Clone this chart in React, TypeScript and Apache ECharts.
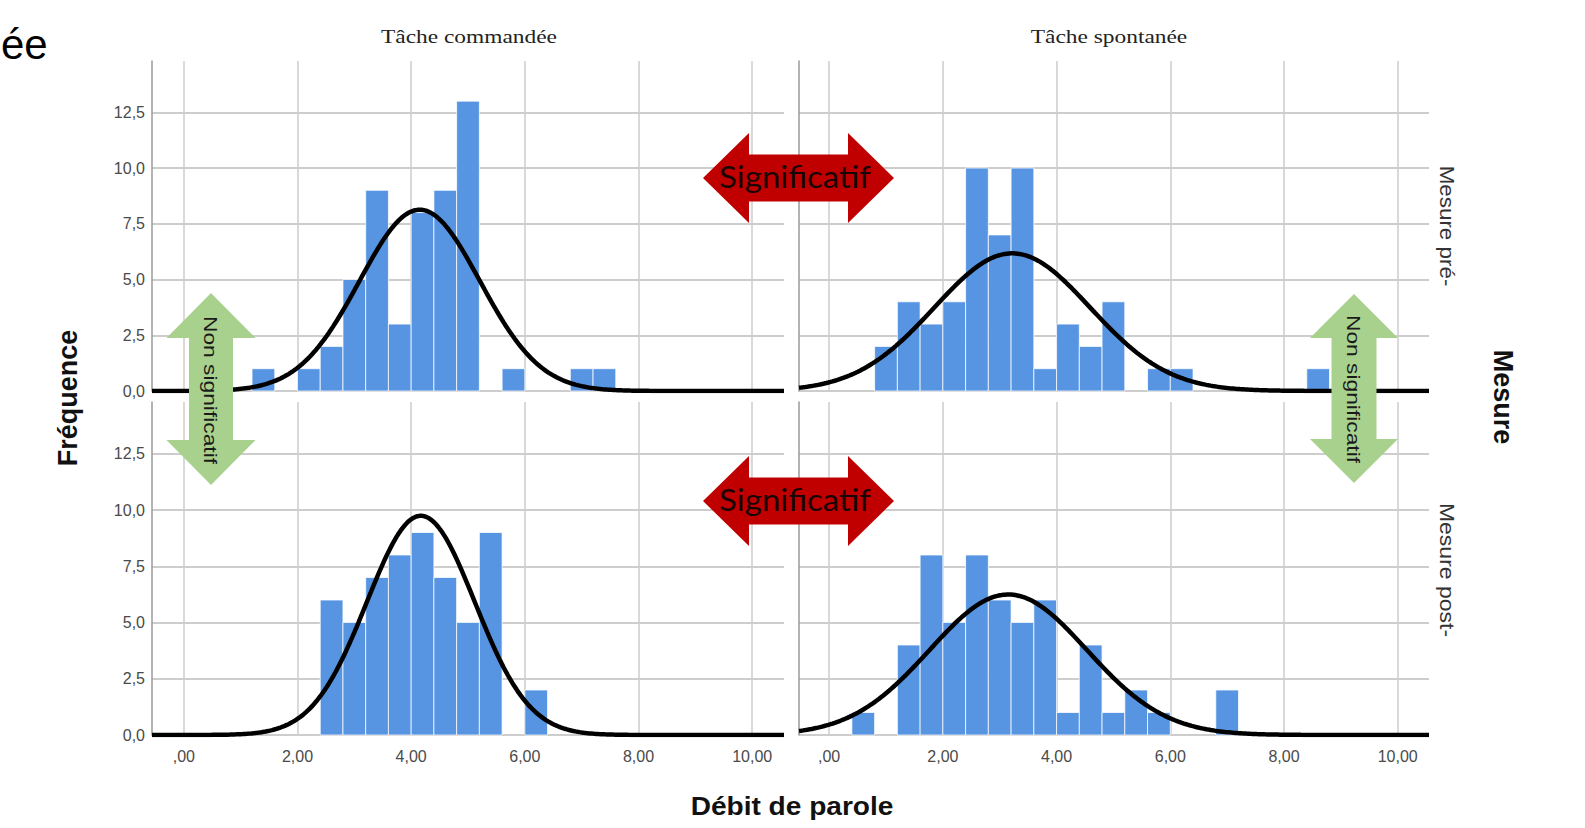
import React, { useEffect, useRef } from "react";
import * as echarts from "echarts";

// ---- Data ----
const binWidth = 0.4;

// Tâche commandée – Mesure pré-
const tlBinStarts = [1.2, 2.0, 2.4, 2.8, 3.2, 3.6, 4.0, 4.4, 4.8, 5.6, 6.8, 7.2];
const tlCounts = [1, 1, 2, 5, 9, 3, 8, 9, 13, 1, 1, 1];
// Tâche spontanée – Mesure pré-
const trBinStarts = [0.8, 1.2, 1.6, 2.0, 2.4, 2.8, 3.2, 3.6, 4.0, 4.4, 4.8, 5.6, 6.0, 8.4];
const trCounts = [2, 4, 3, 4, 10, 7, 10, 1, 3, 2, 4, 1, 1, 1];
// Tâche commandée – Mesure post-
const blBinStarts = [2.4, 2.8, 3.2, 3.6, 4.0, 4.4, 4.8, 5.2, 6.0];
const blCounts = [6, 5, 7, 8, 9, 7, 5, 9, 2];
// Tâche spontanée – Mesure post-
const brBinStarts = [0.4, 1.2, 1.6, 2.0, 2.4, 2.8, 3.2, 3.6, 4.0, 4.4, 4.8, 5.2, 5.6, 6.8];
const brCounts = [1, 4, 8, 5, 8, 6, 5, 6, 1, 4, 1, 2, 1, 2];

// Normal-curve parameters (mean, standard deviation) per panel
const tlNormal = [4.15, 1.06];
const trNormal = [3.22, 1.37];
const blNormal = [4.17, 0.95];
const brNormal = [3.15, 1.38];

const columnLabels = ["Tâche commandée", "Tâche spontanée"];
const rowLabels = ["Mesure pré-", "Mesure post-"];
const xTitle = "Débit de parole";
const yTitle = "Fréquence";
const rowTitle = "Mesure";
const sigLabel = "Significatif";
const nonSigLabel = "Non significatif";

const BAR = "#5795e3";

function binData(starts: number[], counts: number[]) {
  return starts.map((s, i) => [s, +(s + binWidth).toFixed(2), counts[i]]);
}

function normalCurve(params: number[], counts: number[], xmin: number, xmax: number) {
  const [mu, sd] = params;
  const n = counts.reduce((a, b) => a + b, 0);
  const pts: number[][] = [];
  const steps = 300;
  for (let i = 0; i <= steps; i++) {
    const x = xmin + ((xmax - xmin) * i) / steps;
    const y = ((n * binWidth) / (sd * Math.sqrt(2 * Math.PI))) * Math.exp(-((x - mu) ** 2) / (2 * sd * sd));
    pts.push([x, y]);
  }
  return pts;
}

function upDownArrow(cx: number, top: number, bottom: number, headH: number, headHalf: number, shaftHalf: number) {
  return [
    [cx, top],
    [cx + headHalf, top + headH],
    [cx + shaftHalf, top + headH],
    [cx + shaftHalf, bottom - headH],
    [cx + headHalf, bottom - headH],
    [cx, bottom],
    [cx - headHalf, bottom - headH],
    [cx - shaftHalf, bottom - headH],
    [cx - shaftHalf, top + headH],
    [cx - headHalf, top + headH],
  ];
}

function leftRightArrow(cy: number, left: number, right: number, headW: number, headHalf: number, shaftHalf: number) {
  return [
    [left, cy],
    [left + headW, cy - headHalf],
    [left + headW, cy - shaftHalf],
    [right - headW, cy - shaftHalf],
    [right - headW, cy - headHalf],
    [right, cy],
    [right - headW, cy + headHalf],
    [right - headW, cy + shaftHalf],
    [left + headW, cy + shaftHalf],
    [left + headW, cy + headHalf],
  ];
}

export default function App() {
  const ref = useRef<HTMLDivElement>(null);

  useEffect(() => {
    if (!ref.current) return;
    const chart = echarts.init(ref.current, undefined, { renderer: "svg" });

    const grids = [
      { left: 152, top: 61, width: 632, height: 330 },
      { left: 799, top: 61, width: 630, height: 330 },
      { left: 152, top: 402, width: 632, height: 333 },
      { left: 799, top: 402, width: 630, height: 333 },
    ];
    const xRanges = [
      [-0.56, 10.56],
      [-0.53, 10.55],
      [-0.56, 10.56],
      [-0.53, 10.55],
    ];

    const gridColor = "#cdcdcd";
    const labelColor = "#4a4a4a";
    const sans = "'Liberation Sans', Arial, sans-serif";

    const xAxis = grids.map((_, i) => ({
      type: "value",
      gridIndex: i,
      min: xRanges[i][0],
      max: xRanges[i][1],
      splitNumber: 5,
      axisLine: { show: false, onZero: false },
      axisTick: { show: false },
      axisLabel: {
        show: i >= 2,
        color: labelColor,
        fontSize: 16,
        fontFamily: sans,
        margin: 13,
        formatter: (v: number) => {
          if (Math.abs(v - Math.round(v / 2) * 2) > 1e-6) return "";
          return v === 0 ? ",00" : v.toFixed(2).replace(".", ",");
        },
      },
      splitLine: { show: true, showMinLine: false, showMaxLine: false, lineStyle: { color: gridColor, width: 1.5 } },
    }));

    const yAxis = grids.map((_, i) => ({
      type: "value",
      gridIndex: i,
      min: 0,
      max: 14.8,
      interval: 2.5,
      axisLine: { show: true, onZero: false, lineStyle: { color: "#9a9a9a", width: 1.5 } },
      axisTick: { show: false },
      axisLabel: {
        show: i % 2 === 0,
        color: labelColor,
        fontSize: 16,
        fontFamily: sans,
        margin: 7,
        formatter: (v: number) => (v > 12.6 ? "" : v.toFixed(1).replace(".", ",")),
      },
      splitLine: { show: true, showMaxLine: false, lineStyle: { color: gridColor, width: 2 } },
    }));

    const panels = [
      { starts: tlBinStarts, counts: tlCounts, normal: tlNormal },
      { starts: trBinStarts, counts: trCounts, normal: trNormal },
      { starts: blBinStarts, counts: blCounts, normal: blNormal },
      { starts: brBinStarts, counts: brCounts, normal: brNormal },
    ];

    const series: any[] = [];
    panels.forEach((p, i) => {
      series.push({
        type: "custom",
        xAxisIndex: i,
        yAxisIndex: i,
        z: 2,
        data: binData(p.starts, p.counts),
        encode: { x: [0, 1], y: 2 },
        renderItem: (_params: any, api: any) => {
          const a = api.coord([api.value(0), api.value(2)]);
          const b = api.coord([api.value(1), 0]);
          return {
            type: "rect",
            shape: { x: a[0], y: a[1], width: b[0] - a[0], height: b[1] - a[1] },
            style: { fill: BAR, stroke: "rgba(255,255,255,0.75)", lineWidth: 1 },
          };
        },
      });
      series.push({
        type: "line",
        xAxisIndex: i,
        yAxisIndex: i,
        z: 3,
        showSymbol: false,
        silent: true,
        lineStyle: { color: "#000000", width: 4.5 },
        data: normalCurve(p.normal, p.counts, xRanges[i][0], xRanges[i][1]),
      });
    });

    const red = "#c00000";
    const green = "#a9d18e";
    const txt = (o: any) => ({ type: "text", z: 101, ...o });

    const graphic: any[] = [
      txt({
        x: 1,
        y: 44,
        style: { text: "ée", font: `42px ${sans}`, fill: "#000", align: "left", textAlign: "left", verticalAlign: "middle", textVerticalAlign: "middle" },
      }),
      txt({
        x: 469,
        y: 37,
        scaleX: 1.3,
        style: { text: columnLabels[0], font: "18px 'Liberation Serif', 'Times New Roman', serif", fill: "#222", align: "center", textAlign: "center", verticalAlign: "middle", textVerticalAlign: "middle" },
      }),
      txt({
        x: 1109,
        y: 37,
        scaleX: 1.3,
        style: { text: columnLabels[1], font: "18px 'Liberation Serif', 'Times New Roman', serif", fill: "#222", align: "center", textAlign: "center", verticalAlign: "middle", textVerticalAlign: "middle" },
      }),
      txt({
        x: 1447,
        y: 226,
        rotation: -Math.PI / 2,
        scaleX: 1.12,
        style: { text: rowLabels[0], font: `20px ${sans}`, fill: "#333", align: "center", textAlign: "center", verticalAlign: "middle", textVerticalAlign: "middle" },
      }),
      txt({
        x: 1447,
        y: 570,
        rotation: -Math.PI / 2,
        scaleX: 1.15,
        style: { text: rowLabels[1], font: `20px ${sans}`, fill: "#333", align: "center", textAlign: "center", verticalAlign: "middle", textVerticalAlign: "middle" },
      }),
      txt({
        x: 1503,
        y: 397,
        rotation: -Math.PI / 2,
        style: { text: rowTitle, font: `bold 27px ${sans}`, fill: "#111", align: "center", textAlign: "center", verticalAlign: "middle", textVerticalAlign: "middle" },
      }),
      txt({
        x: 68,
        y: 398,
        rotation: Math.PI / 2,
        style: { text: yTitle, font: `bold 27px ${sans}`, fill: "#111", align: "center", textAlign: "center", verticalAlign: "middle", textVerticalAlign: "middle" },
      }),
      txt({
        x: 792,
        y: 806,
        scaleX: 1.08,
        style: { text: xTitle, font: `bold 26px ${sans}`, fill: "#111", align: "center", textAlign: "center", verticalAlign: "middle", textVerticalAlign: "middle" },
      }),
      // red double arrows
      { type: "polygon", z: 100, shape: { points: leftRightArrow(178, 703, 894, 46, 45, 23.5) }, style: { fill: red } },
      { type: "polygon", z: 100, shape: { points: leftRightArrow(501, 703, 894, 46, 45, 23.5) }, style: { fill: red } },
      txt({
        x: 795,
        y: 177,
        scaleX: 1.1,
        style: { text: sigLabel, font: "30px Lato, 'Open Sans', sans-serif", fill: "#1a0505", align: "center", textAlign: "center", verticalAlign: "middle", textVerticalAlign: "middle" },
      }),
      txt({
        x: 795,
        y: 500,
        scaleX: 1.1,
        style: { text: sigLabel, font: "30px Lato, 'Open Sans', sans-serif", fill: "#1a0505", align: "center", textAlign: "center", verticalAlign: "middle", textVerticalAlign: "middle" },
      }),
      // green double arrows
      { type: "polygon", z: 100, shape: { points: upDownArrow(211, 293, 485, 45, 44.5, 22) }, style: { fill: green } },
      { type: "polygon", z: 100, shape: { points: upDownArrow(1354, 294, 483, 44, 44, 22.5) }, style: { fill: green } },
      txt({
        x: 211,
        y: 390,
        rotation: -Math.PI / 2,
        scaleX: 1.2,
        style: { text: nonSigLabel, font: `19px ${sans}`, fill: "#1a1a1a", align: "center", textAlign: "center", verticalAlign: "middle", textVerticalAlign: "middle" },
      }),
      txt({
        x: 1354,
        y: 389,
        rotation: -Math.PI / 2,
        scaleX: 1.2,
        style: { text: nonSigLabel, font: `19px ${sans}`, fill: "#1a1a1a", align: "center", textAlign: "center", verticalAlign: "middle", textVerticalAlign: "middle" },
      }),
    ];

    chart.setOption({
      animation: false,
      backgroundColor: "#ffffff",
      grid: grids,
      xAxis,
      yAxis,
      series,
      graphic,
    });

    return () => chart.dispose();
  }, []);

  return <div ref={ref} style={{ position: "absolute", left: 0, top: 0, width: 1585, height: 828 }} />;
}
